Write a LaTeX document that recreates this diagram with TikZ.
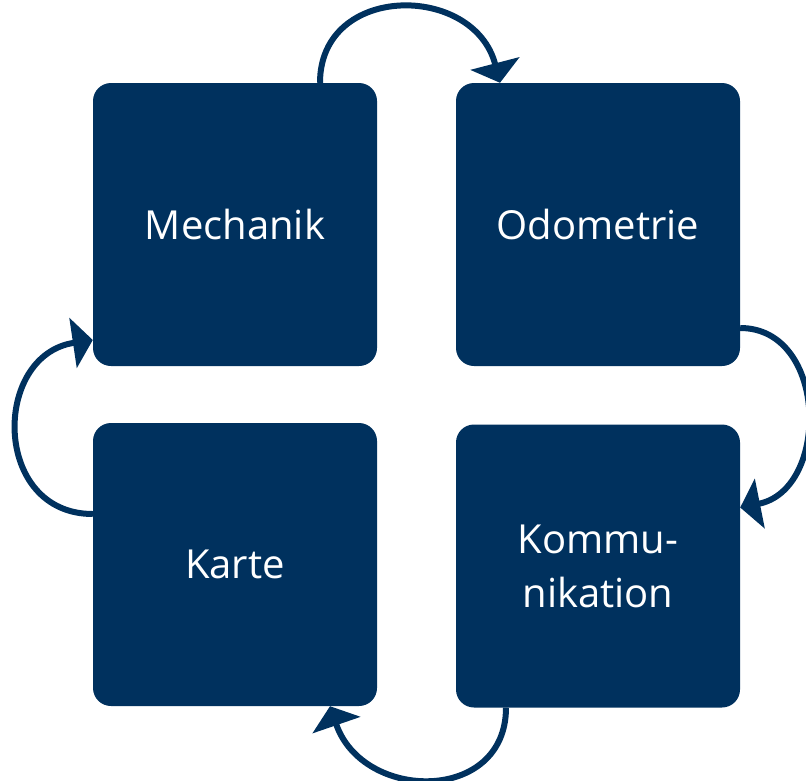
\documentclass[tikz,border=0pt]{standalone}
\usepackage{fontspec}
\setmainfont{Open Sans}
\usetikzlibrary{arrows.meta}
\definecolor{navy}{RGB}{0,49,94}
\begin{document}
\begin{tikzpicture}[x=1pt,y=-1pt,
  box/.style={draw=none,fill=navy,rounded corners=18pt,minimum width=284pt,minimum height=283pt,
    text=white,font=\fontsize{40}{54}\selectfont,align=center,inner sep=0pt},
  arr/.style={draw=navy,line width=6pt,-{Triangle[width=50pt,length=20pt]}}]
\useasboundingbox (0,0) rectangle (806,780);
\node[box] (mech) at (235,224.5) {Mechanik};
\node[box] (odo) at (598,224.5) {Odometrie};
\node[box] (karte) at (235,564.5) {Karte};
\node[box] (kom) at (598,566) {Kommu-\\nikation};
\draw[arr] ([xshift=85pt]mech.north) .. controls +(0,-100) and +(-26,-100) .. ([xshift=-98pt]odo.north);
\draw[arr] ([yshift=-103.5pt]odo.east) .. controls +(88,0) and +(90,-18) .. ([yshift=58.5pt]kom.east);
\draw[arr] ([xshift=-92pt]kom.south) .. controls +(0,96) and +(33,96) .. ([xshift=95pt]karte.south);
\draw[arr] ([yshift=50.5pt]karte.west) .. controls +(-101,0) and +(-101,15) .. ([yshift=-115.5pt]mech.west);
\end{tikzpicture}
\end{document}
